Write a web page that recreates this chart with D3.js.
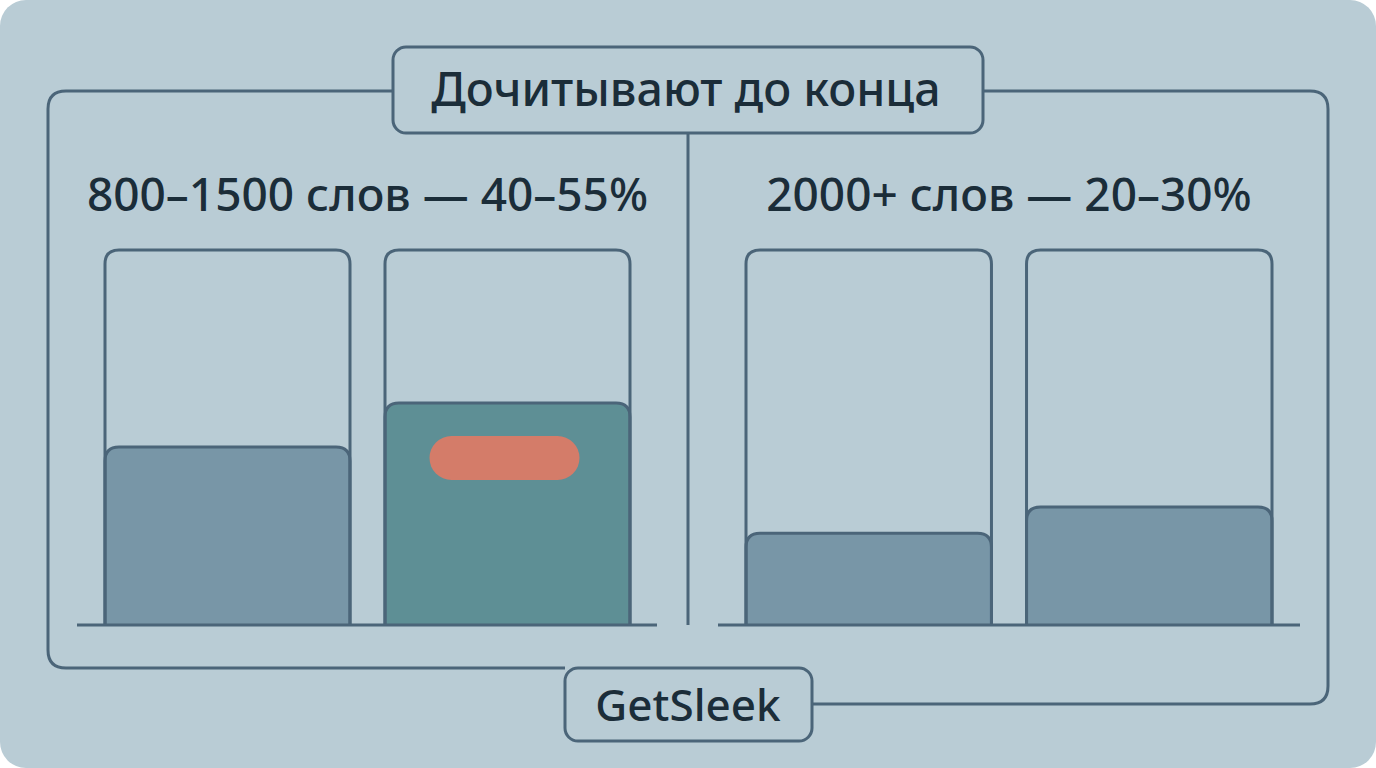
<!DOCTYPE html>
<html><head><meta charset="utf-8">
<script src="https://cdn.jsdelivr.net/npm/d3@7"></script>
<style>html,body{margin:0;padding:0;background:#fff;}svg{display:block;}</style>
</head><body>
<script>
const title = "Дочитывают до конца";
const source = "GetSleek";
const panelLabels = ["800–1500 слов — 40–55%", "2000+ слов — 20–30%"];
const categories = ["a", "b"];
const leftValues = [47.5, 59.2];
const rightValues = [24.5, 31.5];
const highlight = [[false, true], [false, false]];

const W = 1376, H = 768;
const bg = "#b9ccd5", stroke = "#4b6579", ink = "#1b2d39";
const svg = d3.select("body").append("svg").attr("width", W).attr("height", H);
svg.append("rect").attr("width", W).attr("height", H).attr("rx", 26).attr("fill", bg);

// frames
const r = 18;
svg.append("path").attr("fill","none").attr("stroke",stroke).attr("stroke-width",3)
  .attr("d", `M393,91 H${48+r} Q48,91 48,${91+r} V${668-r} Q48,668 ${48+r},668 H565`);
svg.append("path").attr("fill","none").attr("stroke",stroke).attr("stroke-width",3)
  .attr("d", `M983,91 H${1328-r} Q1328,91 1328,${91+r} V${704-r} Q1328,704 ${1328-r},704 H812`);
// divider
svg.append("line").attr("x1",688).attr("x2",688).attr("y1",133).attr("y2",625).attr("stroke",stroke).attr("stroke-width",3);

// title box
svg.append("rect").attr("x",393).attr("y",47).attr("width",590).attr("height",86).attr("rx",13)
  .attr("fill",bg).attr("stroke",stroke).attr("stroke-width",3);
svg.append("text").attr("x",686).attr("y",106).attr("text-anchor","middle")
  .attr("font-family","'Noto Sans'").attr("font-weight",500).attr("font-size",46.5).attr("fill",ink).text(title);

// source box
svg.append("rect").attr("x",565).attr("y",668).attr("width",247).attr("height",73).attr("rx",13)
  .attr("fill",bg).attr("stroke",stroke).attr("stroke-width",3);
svg.append("text").attr("x",688).attr("y",721).attr("text-anchor","middle")
  .attr("font-family","'Noto Sans'").attr("font-weight",500).attr("font-size",44).attr("fill",ink).text(source);

const y = d3.scaleLinear().domain([0,100]).range([625,250]);
const panels = [
  {range:[105,630], base:[77,657], values:leftValues, label:panelLabels[0], hl:highlight[0]},
  {range:[746,1272], base:[718,1300], values:rightValues, label:panelLabels[1], hl:highlight[1]}
];
function topRounded(x0, x1, yt, yb, rr){
  return `M${x0},${yb} V${yt+rr} Q${x0},${yt} ${x0+rr},${yt} H${x1-rr} Q${x1},${yt} ${x1},${yt+rr} V${yb}`;
}
panels.forEach(p => {
  const x = d3.scaleBand().domain(categories).range(p.range).paddingInner(0.125).paddingOuter(0);
  const cx = (p.range[0]+p.range[1])/2;
  svg.append("text").attr("x",cx).attr("y",211).attr("text-anchor","middle")
    .attr("font-family","'Noto Sans'").attr("font-weight",500).attr("font-size",46).attr("fill",ink).text(p.label);
  categories.forEach((c,i) => {
    const x0 = x(c), x1 = x(c)+x.bandwidth();
    svg.append("path").attr("d", topRounded(x0,x1,y(p.values[i]),y(0),14)+" Z")
      .attr("fill", p.hl[i] ? "#5e8f95" : "#7896a7").attr("stroke","none");
    svg.append("path").attr("d", topRounded(x0,x1,y(p.values[i]),y(0),14))
      .attr("fill","none").attr("stroke",stroke).attr("stroke-width",3);
    svg.append("path").attr("d", topRounded(x0,x1,y(100),y(0),14))
      .attr("fill","none").attr("stroke",stroke).attr("stroke-width",3);
    if (p.hl[i]) {
      const pw = 150, ph = 44;
      svg.append("rect").attr("x",(x0+x1)/2-pw/2-3).attr("y",y(p.values[i])+33).attr("width",pw).attr("height",ph)
        .attr("rx",22).attr("fill","#d47c69");
    }
  });
  svg.append("line").attr("x1",p.base[0]).attr("x2",p.base[1]).attr("y1",y(0)).attr("y2",y(0))
    .attr("stroke",stroke).attr("stroke-width",3);
});
</script>
</body></html>
